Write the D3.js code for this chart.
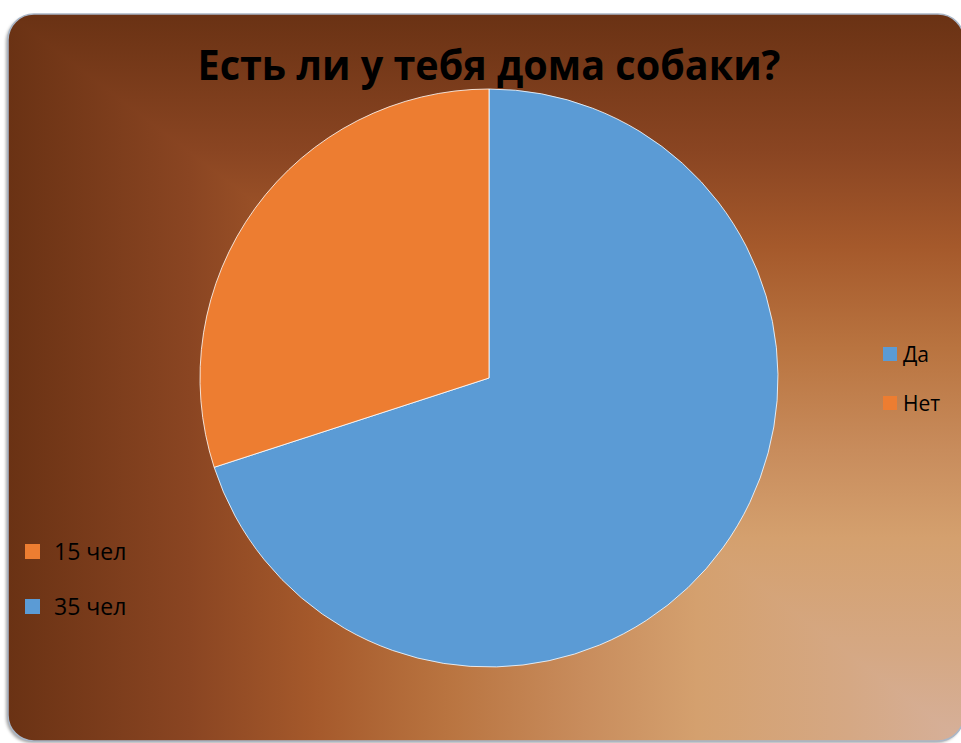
<!DOCTYPE html>
<html>
<head>
<meta charset="utf-8">
<script src="https://cdn.jsdelivr.net/npm/d3@7"></script>
<style>
body { margin: 0; background: #fff; }
svg { display: block; }
</style>
</head>
<body>
<svg id="svg" width="961" height="743"></svg>
<script>
var categories = ['Да', 'Нет'];
var values = [35, 15];
var countLabels = ['35 чел', '15 чел'];
var colors = ['#5b9bd5', '#ed7d31'];

var width = 961;
var height = 743;

var svg = d3.select('svg');
var defs = svg.append('defs');

// frame
var bx = 8, by = 14, bw = 956, bh = 727, br = 26;

// background ramp: dark at left/top, light towards bottom-right corner
var ramp = [[0, '#6a3214'], [0.19, '#8a4522'], [0.32, '#a5592b'], [0.46, '#b97440'],
    [0.6, '#c88c5c'], [0.72, '#d4a06e'], [0.88, '#d5a884'], [1, '#d6b09a']];

var hg = defs.append('linearGradient').attr('id', 'hg')
    .attr('gradientUnits', 'userSpaceOnUse')
    .attr('x1', bx).attr('y1', 0).attr('x2', bx + bw).attr('y2', 0);
var vg = defs.append('linearGradient').attr('id', 'vg')
    .attr('gradientUnits', 'userSpaceOnUse')
    .attr('x1', 0).attr('y1', by).attr('x2', 0).attr('y2', by + bh);
ramp.forEach(function (s) {
    hg.append('stop').attr('offset', s[0]).attr('stop-color', s[1]);
    vg.append('stop').attr('offset', s[0]).attr('stop-color', s[1]);
});

defs.append('clipPath').attr('id', 'frameClip')
    .append('rect')
    .attr('x', bx).attr('y', by).attr('width', bw).attr('height', bh)
    .attr('rx', br).attr('ry', br);

var shadow = defs.append('filter').attr('id', 'shadow')
    .attr('x', -0.05).attr('y', -0.05).attr('width', 1.1).attr('height', 1.1);
shadow.append('feDropShadow').attr('dx', -2).attr('dy', 2).attr('stdDeviation', 1.5)
    .attr('flood-color', '#000').attr('flood-opacity', 0.35);

// shadow under frame
svg.append('rect')
    .attr('x', bx).attr('y', by).attr('width', bw).attr('height', bh)
    .attr('rx', br).attr('ry', br)
    .attr('fill', '#6a3214')
    .attr('filter', 'url(#shadow)');

var bg = svg.append('g').attr('clip-path', 'url(#frameClip)');
// whole frame: horizontal ramp
bg.append('rect')
    .attr('x', bx).attr('y', by).attr('width', bw).attr('height', bh)
    .attr('fill', 'url(#hg)');
// upper-right triangle: vertical ramp
bg.append('path')
    .attr('d', 'M' + bx + ',' + by + 'L' + (bx + bw) + ',' + by + 'L' + (bx + bw) + ',' + (by + bh) + 'Z')
    .attr('fill', 'url(#vg)');

svg.append('rect')
    .attr('x', bx).attr('y', by).attr('width', bw).attr('height', bh)
    .attr('rx', br).attr('ry', br)
    .attr('fill', 'none')
    .attr('stroke', '#aab7c8').attr('stroke-width', 1.5);

// title
svg.append('text')
    .attr('x', 489).attr('y', 80)
    .attr('text-anchor', 'middle')
    .attr('font-family', 'Open Sans, sans-serif')
    .attr('font-weight', 'bold')
    .attr('font-size', 41)
    .attr('textLength', 583)
    .attr('lengthAdjust', 'spacingAndGlyphs')
    .attr('fill', '#000')
    .text('Есть ли у тебя дома собаки?');

// pie
var cx = 489, cy = 378, r = 289;
var pie = d3.pie().sort(null)(values);
var arc = d3.arc().innerRadius(0).outerRadius(r);

svg.append('g')
    .attr('transform', 'translate(' + cx + ',' + cy + ')')
    .selectAll('path')
    .data(pie)
    .enter()
    .append('path')
    .attr('d', arc)
    .attr('fill', function (d, i) { return colors[i]; })
    .attr('stroke', '#fff')
    .attr('stroke-width', 0.8);

// right legend (categories)
var legR = svg.append('g').attr('transform', 'translate(883,347)');
var ly = d3.scaleBand().domain(categories).range([0, 98]);
legR.selectAll('rect').data(categories).enter().append('rect')
    .attr('x', 0).attr('y', function (d) { return ly(d); })
    .attr('width', 14).attr('height', 14)
    .attr('fill', function (d, i) { return colors[i]; });
legR.selectAll('text').data(categories).enter().append('text')
    .attr('x', 20).attr('y', function (d) { return ly(d) + 15; })
    .attr('font-family', 'Open Sans, sans-serif')
    .attr('font-size', 21)
    .attr('fill', '#000')
    .text(function (d) { return d; });

// left legend (counts, reversed order)
var leftOrder = [1, 0];
var legL = svg.append('g').attr('transform', 'translate(25,544)');
var ly2 = d3.scaleBand().domain(leftOrder).range([0, 110]);
legL.selectAll('rect').data(leftOrder).enter().append('rect')
    .attr('x', 0).attr('y', function (d) { return ly2(d); })
    .attr('width', 15).attr('height', 15)
    .attr('fill', function (d) { return colors[d]; });
legL.selectAll('text').data(leftOrder).enter().append('text')
    .attr('x', 29).attr('y', function (d) { return ly2(d) + 16; })
    .attr('font-family', 'Open Sans, sans-serif')
    .attr('font-size', 23)
    .attr('fill', '#000')
    .text(function (d) { return countLabels[d]; });
</script>
</body>
</html>
